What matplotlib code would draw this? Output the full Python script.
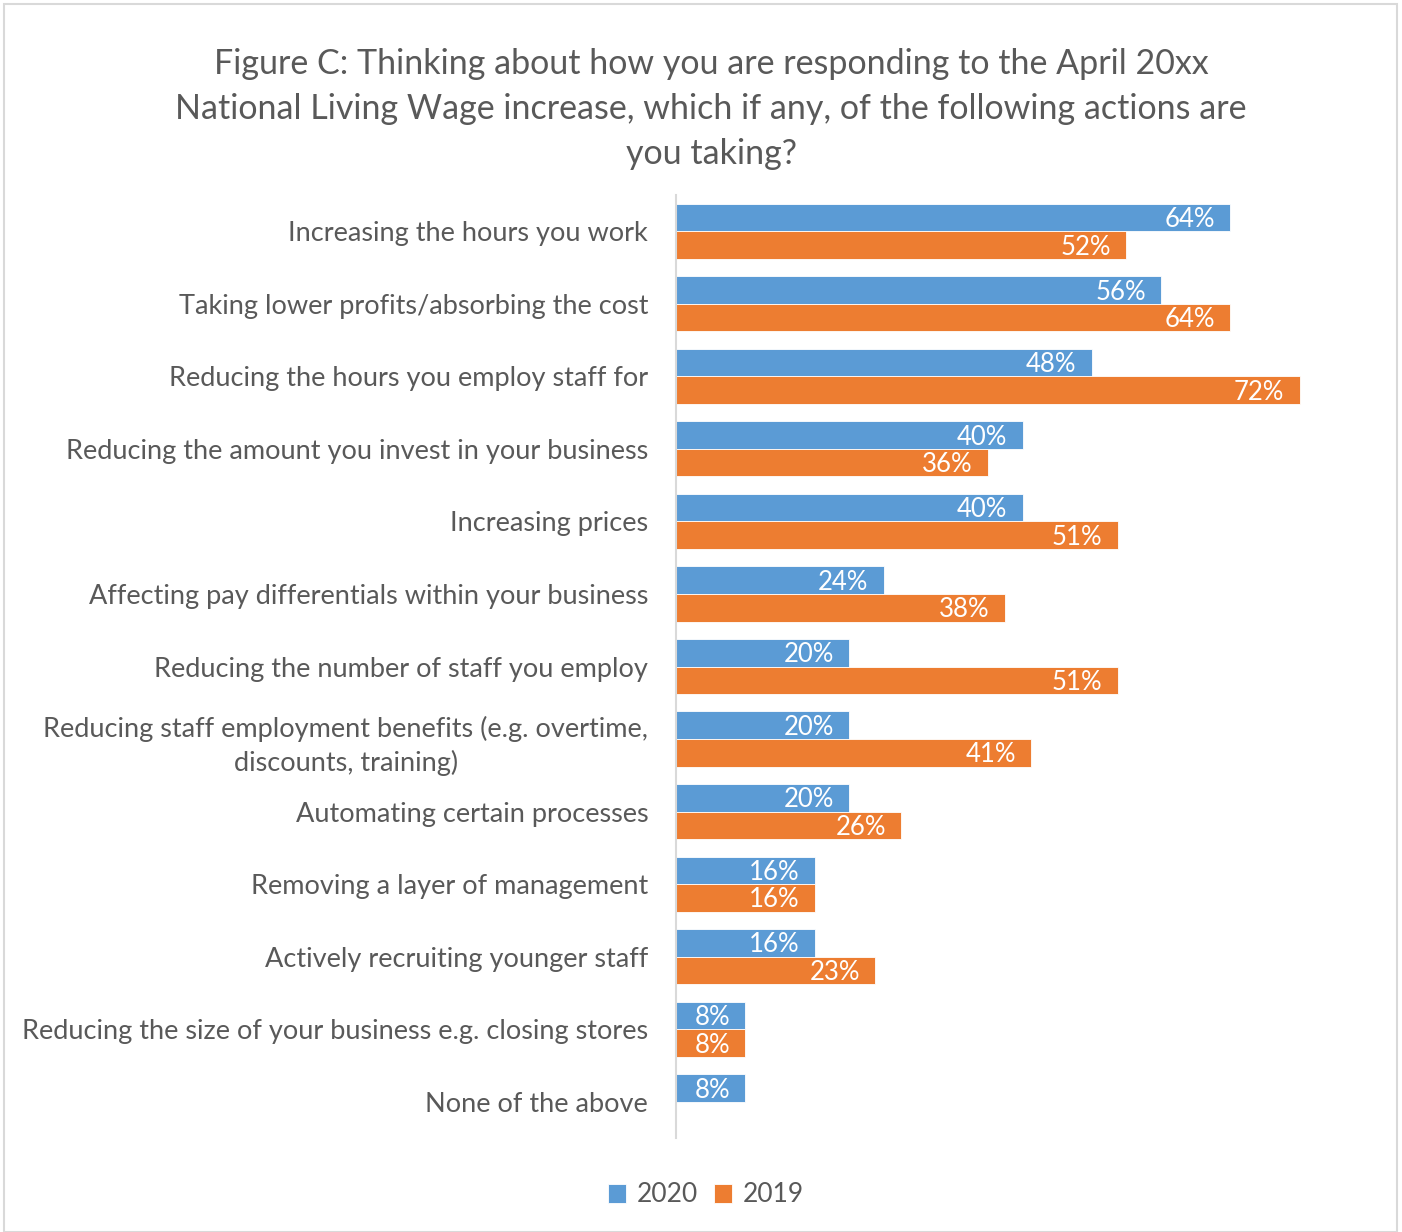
import matplotlib
matplotlib.use("Agg")
import matplotlib.pyplot as plt
import numpy as np
from matplotlib.patches import Rectangle

categories = [
    "Increasing the hours you work",
    "Taking lower profits/absorbing the cost",
    "Reducing the hours you employ staff for",
    "Reducing the amount you invest in your business",
    "Increasing prices",
    "Affecting pay differentials within your business",
    "Reducing the number of staff you employ",
    "Reducing staff employment benefits (e.g. overtime,\ndiscounts, training)",
    "Automating certain processes",
    "Removing a layer of management",
    "Actively recruiting younger staff",
    "Reducing the size of your business e.g. closing stores",
    "None of the above",
]
values_2020 = [64, 56, 48, 40, 40, 24, 20, 20, 20, 16, 16, 8, 8]
values_2019 = [52, 64, 72, 36, 51, 38, 51, 41, 26, 16, 23, 8, np.nan]
series_names = ["2020", "2019"]
colors = ["#5B9BD5", "#ED7D31"]
text_color = "#595959"

plt.rcParams['font.family'] = ['Lato', 'DejaVu Sans']

fig = plt.figure(figsize=(14.02, 12.32), dpi=100)
fig.patches.append(Rectangle((4/1402, 0), 1393/1402, 1 - 4/1232, transform=fig.transFigure,
                             fill=False, edgecolor="#D9D9D9", linewidth=1.5))

ax = fig.add_axes([676/1402, 1 - 1138/1232, (1369 - 676)/1402, (1138 - 195)/1232])

y = np.arange(len(categories))
h = 0.38
for vals, off, col, name in [(values_2020, -h/2, colors[0], series_names[0]),
                             (values_2019, h/2, colors[1], series_names[1])]:
    v = np.array(vals, dtype=float)
    mask = ~np.isnan(v)
    ax.barh(y[mask] + off, v[mask], height=h, color=col, edgecolor="white",
            linewidth=0.6, label=name)
    for yy, val in zip(y[mask] + off, v[mask]):
        ax.annotate(f"{int(val)}%", xy=(val, yy), xytext=(-11, -1.5), textcoords="offset points",
                    ha="right", va="center", color="white", fontsize=18.5)

ax.set_xlim(0, 80)
ax.set_ylim(len(categories) - 0.5, -0.5)
ax.set_yticks(y)
ax.set_yticklabels(categories, fontsize=19.5, color=text_color, linespacing=1.4)
ax.tick_params(axis="y", length=0, pad=20)
ax.set_xticks([])
for s in ["top", "right", "bottom"]:
    ax.spines[s].set_visible(False)
ax.spines["left"].set_color("#D9D9D9")
ax.spines["left"].set_linewidth(1.5)
for lbl in ax.get_yticklabels():
    lbl.set_multialignment("center")

fig.text(711/1402, 1 - 109/1232,
         "Figure C: Thinking about how you are responding to the April 20xx\n"
         "National Living Wage increase, which if any, of the following actions are\n"
         "you taking?", ha="center", va="center", fontsize=24.5, color=text_color, linespacing=1.5)

leg = fig.legend(loc="center", bbox_to_anchor=(706/1402, 1 - 1195/1232), ncol=2, frameon=False,
                 fontsize=19, handlelength=0.7, handleheight=0.7, handletextpad=0.4,
                 columnspacing=0.6, labelcolor=text_color)

fig.savefig("out.png", dpi=100)
